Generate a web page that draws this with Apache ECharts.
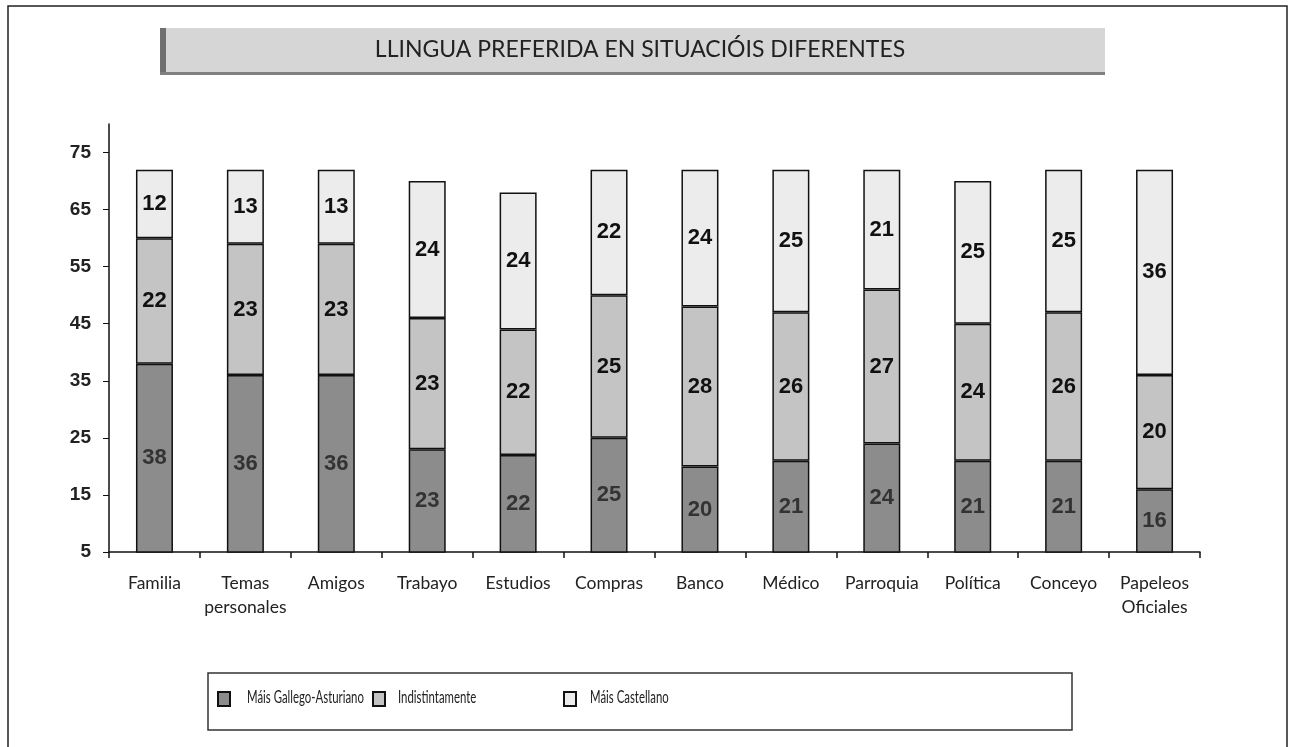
<!DOCTYPE html>
<html>
<head>
<meta charset="utf-8">
<script src="https://cdn.jsdelivr.net/npm/echarts@6/dist/echarts.min.js"></script>
<style>html,body{margin:0;padding:0;background:#fff;}#c{width:1291px;height:747px;}</style>
</head>
<body>
<div id="c"></div>
<script>
const categories = ['Familia', 'Temas\npersonales', 'Amigos', 'Trabayo', 'Estudios', 'Compras', 'Banco', 'Médico', 'Parroquia', 'Política', 'Conceyo', 'Papeleos\nOficiales'];
const gallegoAsturiano = [38, 36, 36, 23, 22, 25, 20, 21, 24, 21, 21, 16];
const indistintamente = [22, 23, 23, 23, 22, 25, 28, 26, 27, 24, 26, 20];
const castellano = [12, 13, 13, 24, 24, 22, 24, 25, 21, 25, 25, 36];
const yTicks = [5, 15, 25, 35, 45, 55, 65, 75];
const seriesNames = ['Máis Gallego-Asturiano', 'Indistintamente', 'Máis Castellano'];
const titleText = 'LLINGUA PREFERIDA EN SITUACIÓIS DIFERENTES';

const labelFont = 'Lato, "Open Sans", sans-serif';
const numFont = '"Liberation Sans", Arial, sans-serif';
const legendLeft = [217, 372, 563];
const legendTextLeft = [247, 398, 590];

function mkSeries(name, data, color, labelColor) {
  return {
    name: name, type: 'bar', stack: 'total', data: data, barWidth: 37,
    itemStyle: { color: color, borderColor: '#111', borderWidth: 1.5 },
    label: { show: true, position: 'inside', color: labelColor, fontFamily: numFont, fontWeight: 'bold', fontSize: 22 },
    emphasis: { disabled: true }
  };
}
function mkLegend(name, left) {
  return {
    data: [name], left: left, top: 691, padding: 0, itemWidth: 12, itemHeight: 14,
    icon: 'rect', selectedMode: false, formatter: function () { return ''; },
    textStyle: { fontSize: 1 }
  };
}
const legendTexts = seriesNames.map(function (n, i) {
  return { type: 'text', x: legendTextLeft[i], y: 698, scaleX: 0.67,
    style: { text: n, fontFamily: labelFont, fontSize: 17, fill: '#222', align: 'left', verticalAlign: 'middle' }, silent: true };
});

const chart = echarts.init(document.getElementById('c'));
chart.setOption({
  animation: false,
  backgroundColor: '#fff',
  grid: { left: 109, right: 91, top: 124, bottom: 195, containLabel: false },
  xAxis: {
    type: 'category', data: categories,
    axisLine: { lineStyle: { color: '#111', width: 1.5 } },
    axisTick: { show: true, length: 6, lineStyle: { color: '#111', width: 1.5 } },
    axisLabel: { fontFamily: labelFont, fontSize: 17.5, color: '#222', margin: 19, lineHeight: 24, interval: 0 }
  },
  yAxis: {
    type: 'value', min: 5, max: 80, interval: 10,
    splitLine: { show: false },
    axisLine: { show: true, lineStyle: { color: '#111', width: 1.5 } },
    axisTick: { show: true, length: 6, lineStyle: { color: '#111', width: 1 }, customValues: yTicks },
    axisLabel: { customValues: yTicks, fontFamily: numFont, fontWeight: 'bold', fontSize: 19, color: '#222', margin: 18 }
  },
  legend: seriesNames.map(function (n, i) { return mkLegend(n, legendLeft[i]); }),
  series: [
    mkSeries(seriesNames[0], gallegoAsturiano, '#8c8c8c', '#333'),
    mkSeries(seriesNames[1], indistintamente, '#c4c4c4', '#111'),
    mkSeries(seriesNames[2], castellano, '#ececec', '#111')
  ],
  graphic: [
    { type: 'rect', shape: { x: 8, y: 6, width: 1279, height: 800 }, style: { fill: 'none', stroke: '#222', lineWidth: 1.5 }, silent: true, z: -10 },
    { type: 'rect', shape: { x: 160, y: 28, width: 945, height: 47 }, style: { fill: '#d6d6d6', stroke: 'none' }, silent: true },
    { type: 'rect', shape: { x: 160, y: 28, width: 6, height: 47 }, style: { fill: '#6f6f6f' }, silent: true },
    { type: 'rect', shape: { x: 160, y: 72, width: 945, height: 3 }, style: { fill: '#808080' }, silent: true },
    { type: 'text', x: 640, y: 50, style: { text: titleText, fontFamily: labelFont, fontSize: 23, fill: '#222', align: 'center', verticalAlign: 'middle' }, silent: true },
    { type: 'rect', shape: { x: 208, y: 673, width: 864, height: 57 }, style: { fill: 'none', stroke: '#333', lineWidth: 1.5 }, silent: true }
  ].concat(legendTexts)
});
</script>
</body>
</html>
